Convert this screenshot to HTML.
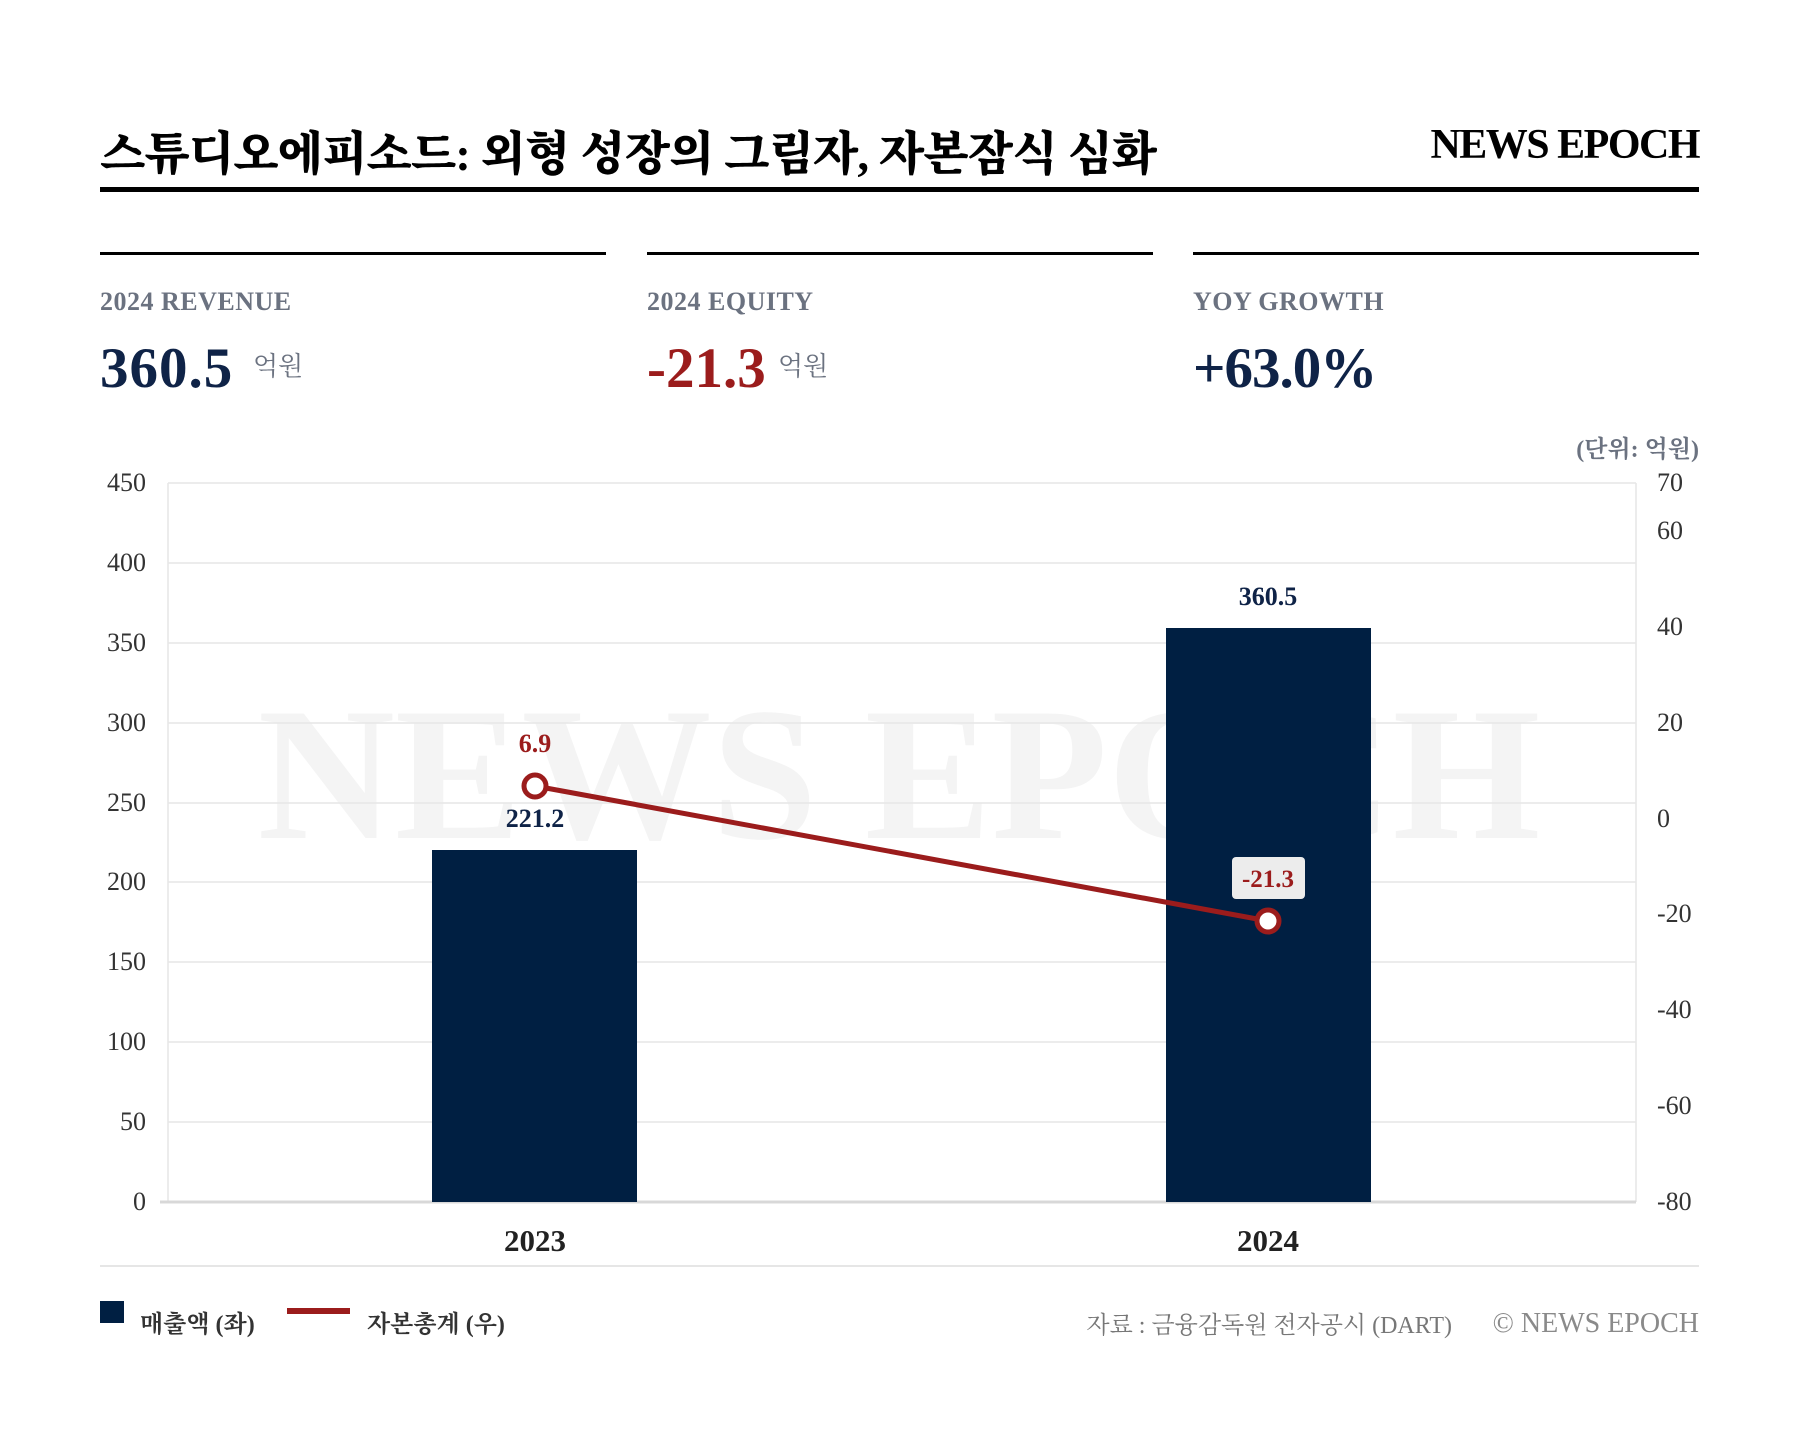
<!DOCTYPE html>
<html><head><meta charset="utf-8"><style>
html,body{margin:0;padding:0;background:#fff}
svg{display:block}
.s{font-family:"Liberation Serif","Noto Serif CJK KR","Noto Serif CJK SC",serif}
</style></head><body>
<svg width="1800" height="1430" viewBox="0 0 1800 1430" xmlns="http://www.w3.org/2000/svg" class="s">
<text x="100" y="170" font-size="47" font-weight="900" fill="#000" letter-spacing="-1">스튜디오에피소드: 외형 성장의 그림자, 자본잠식 심화</text>
<text x="1699" y="158" font-size="42" font-weight="700" fill="#000" text-anchor="end" letter-spacing="-1.5">NEWS EPOCH</text>
<rect x="100" y="187" width="1599" height="5" fill="#000"/>
<rect x="100" y="252" width="506" height="3" fill="#000"/>
<rect x="647" y="252" width="506" height="3" fill="#000"/>
<rect x="1193" y="252" width="506" height="3" fill="#000"/>
<g font-size="26" fill="#6b7280" font-weight="700" letter-spacing="0.5">
<text x="100" y="310">2024 REVENUE</text>
<text x="647" y="310">2024 EQUITY</text>
<text x="1193" y="310">YOY GROWTH</text>
</g>
<text x="100" y="387" font-size="57" font-weight="700" fill="#0f2347" letter-spacing="1">360.5</text>
<text x="253" y="375" font-size="26" fill="#6b7280">억원</text>
<text x="647" y="387" font-size="57" font-weight="700" fill="#9b1c1c">-21.3</text>
<text x="778" y="375" font-size="26" fill="#6b7280">억원</text>
<text x="1193" y="387" font-size="57" font-weight="700" fill="#0f2347" letter-spacing="-1">+63.0%</text>
<text x="1699" y="457" font-size="24" font-weight="700" fill="#6b7280" text-anchor="end">(단위: 억원)</text>
<text x="899" y="838" font-size="190" font-weight="700" fill="#f4f4f4" text-anchor="middle">NEWS EPOCH</text>
<g stroke="#e6e6e6" stroke-width="1.5">
<line x1="168" y1="483" x2="1636" y2="483"/><line x1="168" y1="563" x2="1636" y2="563"/>
<line x1="168" y1="643" x2="1636" y2="643"/><line x1="168" y1="723" x2="1636" y2="723"/>
<line x1="168" y1="803" x2="1636" y2="803"/><line x1="168" y1="882" x2="1636" y2="882"/>
<line x1="168" y1="962" x2="1636" y2="962"/><line x1="168" y1="1042" x2="1636" y2="1042"/>
<line x1="168" y1="1122" x2="1636" y2="1122"/>
<line x1="168" y1="483" x2="168" y2="1202"/><line x1="1636" y1="483" x2="1636" y2="1202"/>
</g>
<line x1="160" y1="1202" x2="1636" y2="1202" stroke="#d8d8d8" stroke-width="3"/>
<g font-size="26" fill="#333" text-anchor="end">
<text x="146" y="491">450</text><text x="146" y="571">400</text><text x="146" y="651">350</text>
<text x="146" y="731">300</text><text x="146" y="811">250</text><text x="146" y="890">200</text>
<text x="146" y="970">150</text><text x="146" y="1050">100</text><text x="146" y="1130">50</text>
<text x="146" y="1210">0</text>
</g>
<g font-size="26" fill="#333" text-anchor="start">
<text x="1657" y="491">70</text><text x="1657" y="539">60</text><text x="1657" y="635">40</text>
<text x="1657" y="731">20</text><text x="1657" y="827">0</text><text x="1657" y="922">-20</text>
<text x="1657" y="1018">-40</text><text x="1657" y="1114">-60</text><text x="1657" y="1210">-80</text>
</g>
<rect x="432" y="850" width="205" height="352" fill="#001f42"/>
<rect x="1166" y="628" width="205" height="574" fill="#001f42"/>
<text x="535" y="827" font-size="26" font-weight="700" fill="#0f2347" text-anchor="middle">221.2</text>
<text x="1268" y="605" font-size="26" font-weight="700" fill="#0f2347" text-anchor="middle">360.5</text>
<line x1="535" y1="786" x2="1268" y2="921" stroke="#9b1c1c" stroke-width="5"/>
<circle cx="535" cy="786" r="11" fill="#fff" stroke="#9b1c1c" stroke-width="5"/>
<circle cx="1268" cy="921" r="11" fill="#fff" stroke="#9b1c1c" stroke-width="5"/>
<text x="535" y="752" font-size="26" font-weight="700" fill="#9b1c1c" text-anchor="middle">6.9</text>
<rect x="1232" y="857" width="73" height="42" rx="4" fill="#ececec"/>
<text x="1268" y="887" font-size="25" font-weight="700" fill="#9b1c1c" text-anchor="middle">-21.3</text>
<text x="535" y="1251" font-size="31" font-weight="700" fill="#222" text-anchor="middle">2023</text>
<text x="1268" y="1251" font-size="31" font-weight="700" fill="#222" text-anchor="middle">2024</text>
<line x1="100" y1="1266" x2="1699" y2="1266" stroke="#e6e6e6" stroke-width="2"/>
<rect x="100" y="1301" width="24" height="22" fill="#001f42"/>
<text x="140" y="1332" font-size="24" font-weight="700" fill="#333">매출액 (좌)</text>
<rect x="287" y="1308" width="63" height="6" fill="#9b1c1c"/>
<text x="367" y="1332" font-size="24" font-weight="700" fill="#333">자본총계 (우)</text>
<text x="1452" y="1333" font-size="24" fill="#777" text-anchor="end">자료 : 금융감독원 전자공시 (DART)</text>
<text x="1699" y="1332" font-size="28" fill="#8a8a8a" text-anchor="end">© NEWS EPOCH</text>
</svg>
</body></html>
